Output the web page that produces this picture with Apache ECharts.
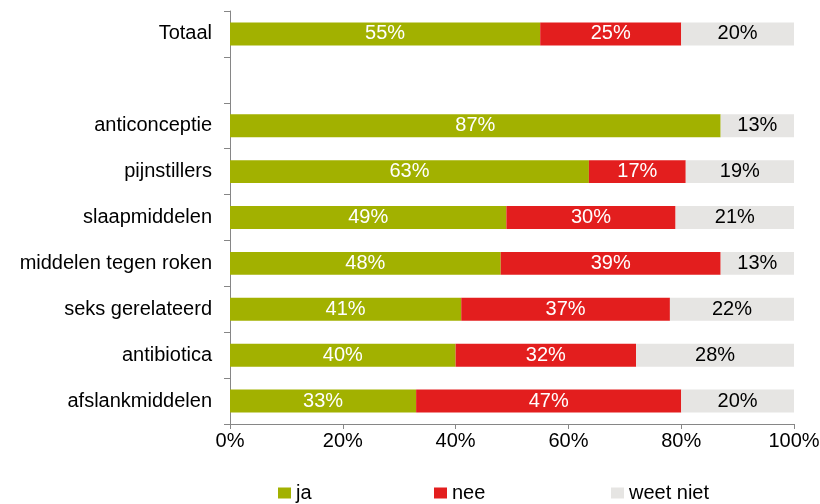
<!DOCTYPE html>
<html>
<head>
<meta charset="utf-8">
<script src="https://cdn.jsdelivr.net/npm/echarts@6/dist/echarts.min.js"></script>
<style>
  html, body { margin: 0; padding: 0; background: #fff; }
  #chart { width: 820px; height: 504px; }
</style>
</head>
<body>
<div id="chart"></div>
<script>
// categorieen, van boven naar beneden (lege rij tussen Totaal en de rest)
var categories = ['Totaal', '', 'anticonceptie', 'pijnstillers', 'slaapmiddelen',
  'middelen tegen roken', 'seks gerelateerd', 'antibiotica', 'afslankmiddelen'];
var ja       = [55, null, 87, 63, 49, 48, 41, 40, 33];
var nee      = [25, null, 0, 17, 30, 39, 37, 32, 47];
var weetNiet = [20, null, 13, 19, 21, 13, 22, 28, 20];
var xTicks = [0, 20, 40, 60, 80, 100];

var font = 'Liberation Sans, Arial, sans-serif';
var colors = { ja: '#A2B100', nee: '#E31E1E', weet: '#E6E5E3' };

// 100% gestapeld: elke rij opschalen naar totaal 100
function share(arr, i) {
  var tot = (ja[i] || 0) + (nee[i] || 0) + (weetNiet[i] || 0);
  if (arr[i] == null || tot === 0) return null;
  return { value: arr[i] / tot * 100, raw: arr[i] };
}

function makeSeries(name, arr, color, labelColor) {
  return {
    name: name,
    type: 'bar',
    stack: 'tot',
    barWidth: '50%',
    itemStyle: { color: color },
    label: {
      show: true,
      position: 'inside',
      color: labelColor,
      fontFamily: font,
      fontSize: 20,
      formatter: function (p) {
        return p.data && p.data.raw ? p.data.raw + '%' : '';
      }
    },
    data: categories.map(function (c, i) { return share(arr, i); })
  };
}

var chart = echarts.init(document.getElementById('chart'));
chart.setOption({
  animation: false,
  grid: { left: 230, right: 26, top: 11, bottom: 80, outerBoundsMode: 'none' },
  legend: [
    { data: ['ja'], left: 273, top: 478 },
    { data: ['nee'], left: 429, top: 478 },
    { data: ['weet niet'], left: 606, top: 478 }
  ].map(function (l) {
    l.icon = 'rect';
    l.itemWidth = 13;
    l.itemHeight = 11;
    l.textStyle = { fontFamily: font, fontSize: 20, color: '#000' };
    return l;
  }),
  xAxis: {
    type: 'value',
    min: xTicks[0],
    max: xTicks[xTicks.length - 1],
    interval: 20,
    splitLine: { show: false },
    axisLine: { show: true, lineStyle: { color: '#868686' } },
    axisTick: { show: true, length: 5, lineStyle: { color: '#868686' } },
    axisLabel: { fontFamily: font, fontSize: 20, color: '#000', margin: 7, formatter: '{value}%' }
  },
  yAxis: {
    type: 'category',
    inverse: true,
    data: categories,
    axisLine: { show: true, lineStyle: { color: '#868686' } },
    axisTick: { show: true, length: 6, lineStyle: { color: '#868686' } },
    axisLabel: { fontFamily: font, fontSize: 20, color: '#000', margin: 18 }
  },
  series: [
    makeSeries('ja', ja, colors.ja, '#fff'),
    makeSeries('nee', nee, colors.nee, '#fff'),
    makeSeries('weet niet', weetNiet, colors.weet, '#000')
  ]
});
</script>
</body>
</html>
